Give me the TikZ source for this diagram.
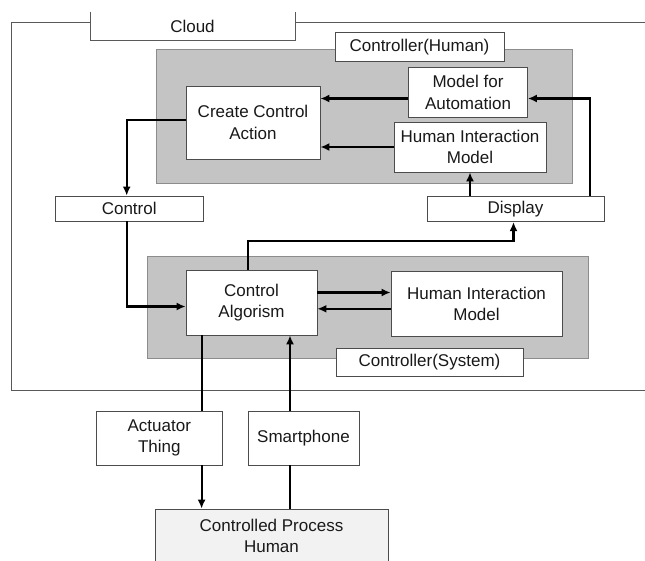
\documentclass[tikz,border=0pt]{standalone}
\usepackage{fontspec}
\setmainfont{Liberation Sans}
\usetikzlibrary{calc,arrows.meta}
\definecolor{panelgray}{RGB}{196,196,196}
\definecolor{processgray}{RGB}{242,242,242}
\tikzset{
  box/.style={draw=black!70, fill=white, line width=0.8pt, inner sep=0pt, align=center,
    text=black!90, font=\fontsize{17}{21.5}\selectfont},
  panel/.style={draw=black!45, fill=panelgray, line width=0.9pt, inner sep=0pt},
  flow/.style={line width=2.2pt, -{Latex[length=9pt,width=8pt]}},
  wire/.style={line width=2.2pt},
}

\begin{document}
\begin{tikzpicture}[x=1pt,y=-1pt]
			%%%%% START %%%%%
			\clip (0,0) rectangle (645,560);
			\fill[white] (0,0) rectangle (645,560);
			
			% cloud frame
			\draw[black!65, line width=0.8pt] (11.5,22.7) rectangle (700,390);
			\node[box, draw=none, minimum width=204, minimum height=28] (cloud) at (192.5,26) {Cloud};
			\draw[black!65, line width=0.8pt] (cloud.north west) |- (cloud.south east) -- (cloud.north east);
			
			% controller (human)
			\node[panel, minimum width=416, minimum height=134] (ctrlhuman) at (364,116) {};
			\node[box, minimum width=169, minimum height=29] (humanlbl) at (419.5,47.3) {Controller(Human)};
			\node[box, minimum width=119, minimum height=49.6] (automation) at (468,92.5) {Model for\\Automation};
			\node[box, minimum width=134, minimum height=73] (create) at (253,122.5) {Create Control\\Action};
			\node[box, minimum width=152, minimum height=50] (himhuman) at (470,147) {Human Interaction\\Model};
			
			% signals
			\node[box, minimum width=147.5, minimum height=25] (control) at (129.2,208.5) {Control};
			\node[box, minimum width=177, minimum height=25.7] (display) at (515.5,208.8) {Display};
			
			% controller (system)
			\node[panel, minimum width=441, minimum height=102] (ctrlsystem) at (367.5,307) {};
			\node[box, minimum width=131, minimum height=65] (algo) at (251.5,302.5) {Control\\Algorism};
			\node[box, minimum width=171, minimum height=64.3] (himsystem) at (476.5,303.8) {Human Interaction\\Model};
			\node[box, minimum width=187, minimum height=28] (systemlbl) at (429.5,362) {Controller(System)};
			
			% outside the cloud
			\node[box, minimum width=126.6, minimum height=54] (actuator) at (159.3,438) {Actuator\\Thing};
			\node[box, minimum width=111, minimum height=54] (phone) at (303.5,438) {Smartphone};
			\node[box, fill=processgray, minimum width=233, minimum height=70] (process) at (271.5,544) {};
			\node[font=\fontsize{17}{21.5}\selectfont, align=center, text=black!90] (processtxt) at (271.5,536) {Controlled Process\\Human};
			
			\coordinate (actx) at (201.6,0);
			\coordinate (phonex) at (290,0);
			\coordinate (backx) at (589.7,0);
			
			% connectors in controller (human)
			\draw[flow] ([yshift=-6pt]automation.west) -- ([yshift=-6pt]automation.west -| create.east);
			\draw[flow] (himhuman.west) -- (himhuman.west -| create.east);
			\draw[flow] ([yshift=2.5pt]create.west) -| (control.north -| 126.7,0);
			\draw[flow] (display.north -| backx) |- ([yshift=-6pt]automation.east);
			\draw[flow] (display.north -| himhuman.south) -- (himhuman.south);
			
			% connectors in controller (system)
			\draw[flow] (control.south -| 126.7,0) |- ([yshift=-4pt]algo.west);
			\draw[flow] ([xshift=-3.5pt]algo.north) -- ++(0,-29) -| ([xshift=-2pt]display.south);
			\draw[flow] ([yshift=10pt]algo.east) -- ([yshift=10pt]algo.east -| himsystem.west);
			\draw[flow] ([yshift=-5pt]himsystem.west) -- ([yshift=-5pt]himsystem.west -| algo.east);
			
			% down to the process and back
			\draw[wire] (algo.south -| actx) -- (actuator.north -| actx);
			\draw[flow] (actuator.south -| actx) -- (process.north -| actx);
			\draw[wire] (process.north -| phonex) -- (phone.south -| phonex);
			\draw[flow] (phone.north -| phonex) -- (algo.south -| phonex);
			%%%%% END %%%%%
\end{tikzpicture}
\end{document}
